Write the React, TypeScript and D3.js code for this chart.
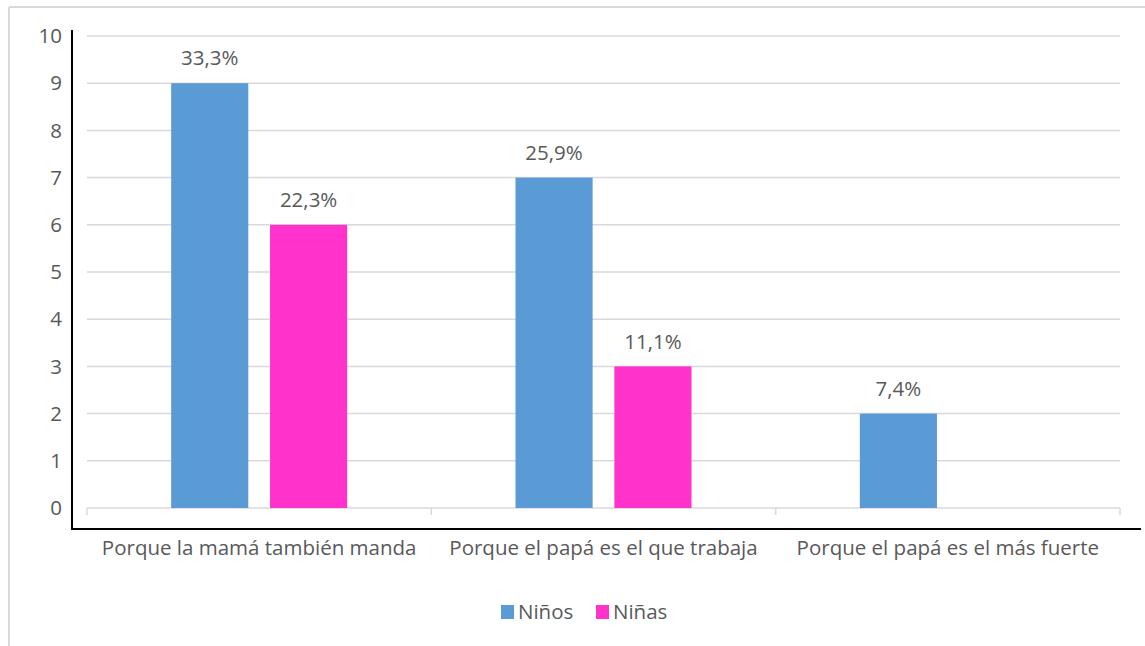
import React from "react";
import * as d3 from "d3";

const categories = [
  "Porque la mamá también manda",
  "Porque el papá es el que trabaja",
  "Porque el papá es el más fuerte",
];
const seriesNames = ["Niños", "Niñas"];
const ninos = [9, 7, 2];
const ninas = [6, 3, 0];
const ninosLabels = ["33,3%", "25,9%", "7,4%"];
const ninasLabels = ["22,3%", "11,1%", ""];
const yTicks = [0, 1, 2, 3, 4, 5, 6, 7, 8, 9, 10];
const colors = ["#5B9BD5", "#FF33CC"];

const W = 1145;
const H = 646;
const FONT = "'Open Sans', sans-serif";
const TEXT = "#595959";
const FS = 20.5;

export default function App() {
  const x0 = d3.scaleBand<string>().domain(categories).range([87, 1120]).padding(0);
  const y = d3.scaleLinear().domain([0, 10]).range([508, 36]);
  const groupW = 176;
  const x1 = d3
    .scaleBand<string>()
    .domain(seriesNames)
    .range([-groupW / 2, groupW / 2])
    .paddingInner(0.22);
  const series = [
    { name: seriesNames[0], values: ninos, labels: ninosLabels, color: colors[0] },
    { name: seriesNames[1], values: ninas, labels: ninasLabels, color: colors[1] },
  ];
  const tickXs = [...categories.map((c) => x0(c)!), 1120];

  return (
    <svg width={W} height={H} style={{ position: "absolute", left: 0, top: 0 }} fontFamily={FONT}>
      <rect x={0} y={0} width={W} height={H} fill="#fff" />
      {/* outer border */}
      <line x1={9} y1={7} x2={9} y2={H} stroke="#D9D9D9" strokeWidth={2} />
      <line x1={9} y1={7} x2={W} y2={7} stroke="#D9D9D9" strokeWidth={2} />
      {/* gridlines */}
      {yTicks.map((t) => (
        <line key={t} x1={87} x2={1120} y1={y(t)} y2={y(t)} stroke="#D9D9D9" strokeWidth={1.5} />
      ))}
      {/* category ticks */}
      {tickXs.map((tx, i) => (
        <line key={i} x1={tx} x2={tx} y1={y(0)} y2={y(0) + 7} stroke="#D9D9D9" strokeWidth={1.5} />
      ))}
      {/* y labels */}
      {yTicks.map((t) => (
        <text key={t} x={62} y={y(t)} dy="0.35em" textAnchor="end" fontSize={FS} fill={TEXT}>
          {t}
        </text>
      ))}
      {/* bars */}
      {series.map((s) =>
        categories.map((c, i) => {
          const cx = x0(c)! + x0.bandwidth() / 2;
          const bx = cx + x1(s.name)!;
          const v = s.values[i];
          return (
            <g key={s.name + c}>
              {v > 0 && (
                <rect x={bx} y={y(v)} width={x1.bandwidth()} height={y(0) - y(v)} fill={s.color} />
              )}
              {s.labels[i] && (
                <text
                  x={bx + x1.bandwidth() / 2}
                  y={y(v) - 25}
                  dy="0.35em"
                  textAnchor="middle"
                  fontSize={FS}
                  fill={TEXT}
                >
                  {s.labels[i]}
                </text>
              )}
            </g>
          );
        })
      )}
      {/* category labels */}
      {categories.map((c) => (
        <text
          key={c}
          x={x0(c)! + x0.bandwidth() / 2}
          y={548}
          dy="0.35em"
          textAnchor="middle"
          fontSize={FS}
          fill={TEXT}
        >
          {c}
        </text>
      ))}
      {/* black frame */}
      <line x1={72} y1={30} x2={72} y2={529} stroke="#000" strokeWidth={2} />
      <line x1={71} y1={529} x2={1141} y2={529} stroke="#000" strokeWidth={2} />
      {/* legend */}
      {seriesNames.map((n, i) => {
        const lx = i === 0 ? 501 : 596;
        return (
          <g key={n}>
            <rect x={lx} y={605} width={13} height={14} fill={colors[i]} />
            <text x={lx + 17} y={612} dy="0.35em" fontSize={FS} fill={TEXT}>
              {n}
            </text>
          </g>
        );
      })}
    </svg>
  );
}
